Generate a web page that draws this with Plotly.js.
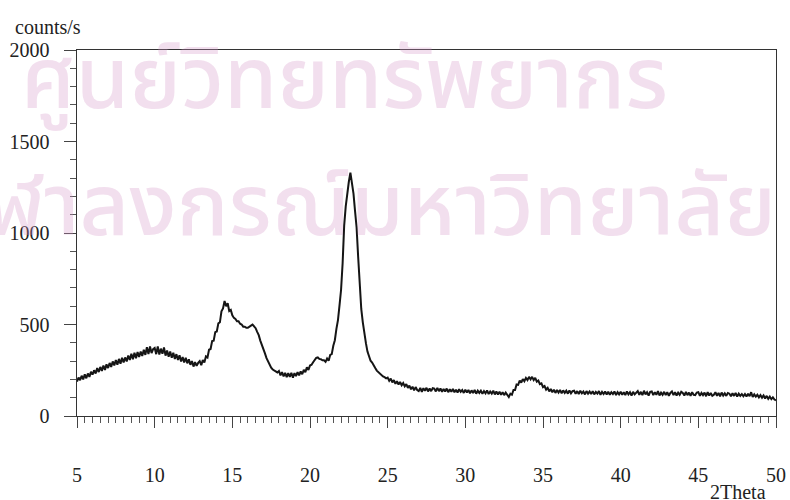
<!DOCTYPE html>
<html>
<head>
<meta charset="utf-8">
<script src="https://cdn.plot.ly/plotly-3.0.1.min.js"></script>
<style>html,body{margin:0;padding:0;background:#fff;}#chart{width:790px;height:500px;}</style>
</head>
<body>
<div id="chart"></div>
<script>
// XRD scan: 2Theta from 5 to 50 degrees, step 0.1
const scanStart = 5;
const scanStep = 0.1;
const counts = [
  188, 210, 196, 220, 200, 228, 206, 232, 214, 242,
  226, 250, 232, 262, 240, 268, 246, 276, 252, 282,
  262, 290, 268, 298, 276, 306, 280, 312, 286, 318,
  292, 320, 298, 330, 306, 340, 310, 346, 316, 350,
  322, 352, 328, 362, 334, 376, 338, 380, 344, 366,
  372, 338, 380, 336, 368, 340, 374, 330, 358, 324,
  352, 318, 346, 312, 338, 306, 332, 298, 322, 292,
  318, 288, 310, 280, 300, 270, 294, 274, 290, 300,
  278, 306, 292, 326, 320, 362, 366, 410, 412, 458,
  462, 506, 512, 572, 588, 628, 600, 616, 574, 580,
  550, 536, 530, 518, 518, 504, 500, 488, 488, 482,
  482, 486, 494, 500, 490, 480, 460, 442, 412, 392,
  362, 342, 316, 298, 278, 264, 254, 248, 240, 238,
  246, 222, 240, 216, 236, 212, 234, 214, 236, 210,
  234, 218, 240, 222, 244, 228, 252, 240, 266, 252,
  276, 280, 294, 306, 318, 320, 312, 310, 304, 304,
  296, 314, 302, 334, 338, 384, 414, 476, 524, 604,
  690, 835, 1040, 1145, 1225, 1280, 1330, 1275, 1215, 1120,
  1030, 870, 695, 585, 512, 440, 398, 352, 328, 302,
  292, 274, 262, 248, 240, 228, 222, 216, 212, 206,
  210, 192, 204, 184, 196, 176, 190, 172, 186, 168,
  180, 162, 174, 154, 166, 146, 160, 140, 158, 142,
  136, 154, 132, 152, 138, 154, 134, 150, 136, 152,
  150, 134, 154, 136, 150, 132, 148, 134, 150, 130,
  146, 132, 148, 130, 144, 128, 146, 132, 142, 126,
  144, 128, 142, 124, 140, 126, 142, 122, 138, 126,
  138, 122, 136, 124, 140, 120, 134, 122, 138, 118,
  134, 118, 132, 116, 130, 114, 128, 112, 104, 122,
  116, 142, 142, 172, 170, 194, 182, 202, 190, 208,
  196, 214, 200, 214, 196, 208, 188, 194, 174, 178,
  158, 164, 144, 154, 134, 148, 130, 144, 126, 142,
  128, 142, 124, 140, 126, 138, 122, 140, 124, 136,
  138, 122, 136, 120, 138, 124, 134, 118, 136, 122,
  134, 120, 136, 118, 132, 122, 136, 116, 132, 120,
  134, 118, 132, 116, 130, 120, 134, 114, 130, 118,
  132, 116, 130, 114, 134, 118, 130, 112, 132, 118,
  130, 136, 116, 132, 114, 138, 118, 130, 112, 132,
  134, 114, 130, 116, 136, 112, 128, 116, 132, 114,
  130, 110, 126, 134, 114, 130, 112, 128, 116, 132,
  126, 112, 132, 114, 128, 110, 130, 116, 114, 128,
  130, 110, 126, 114, 128, 108, 130, 112, 126, 110,
  116, 130, 110, 126, 108, 128, 112, 124, 110, 126,
  122, 108, 124, 110, 126, 106, 122, 110, 120, 108,
  120, 106, 122, 108, 130, 104, 118, 106, 116, 102,
  114, 100, 112, 96, 110, 94, 106, 92, 102, 90,
  86
];
const xTickVals = [5, 10, 15, 20, 25, 30, 35, 40, 45, 50];
const yTickVals = [0, 500, 1000, 1500, 2000];
const yAxisLabel = "counts/s";
const xAxisLabel = "2Theta";
const watermarkLine1 = "ศูนย์วิทยทรัพยากร";
const watermarkLine2 = "จุฬาลงกรณ์มหาวิทยาลัย";

const twoTheta = counts.map((_, i) => +(scanStart + i * scanStep).toFixed(1));

const serif = "Liberation Serif, Times New Roman, serif";
const thai = "Noto Sans Thai, Noto Sans Thai Looped, Loma, Garuda, Noto Sans, DejaVu Sans, sans-serif";
const wmColor = "rgba(212,150,200,0.3)";

const trace = {
  x: twoTheta, y: counts, type: "scatter", mode: "lines",
  line: {color: "#151515", width: 2},
  hoverinfo: "skip", showlegend: false
};

const layout = {
  width: 790, height: 500,
  margin: {l: 77, r: 14, t: 50, b: 84, pad: 0},
  paper_bgcolor: "#fff", plot_bgcolor: "#fff",
  font: {family: serif, size: 20, color: "#222"},
  xaxis: {
    range: [5, 50], showgrid: false, zeroline: false,
    showline: true, linecolor: "#333", linewidth: 1.4, mirror: true,
    tickmode: "array", tickvals: xTickVals, ticktext: xTickVals.map(String),
    ticks: "outside", ticklen: 11, tickwidth: 1, tickcolor: "#444",
    ticklabelstandoff: 30,
    minor: {dtick: 0.5, ticks: "outside", ticklen: 6, tickwidth: 1, tickcolor: "#555", showgrid: false},
    tickfont: {family: serif, size: 20, color: "#222"}
  },
  yaxis: {
    range: [0, 2000], showgrid: false, zeroline: false,
    showline: true, linecolor: "#333", linewidth: 1.4, mirror: true,
    tickmode: "array", tickvals: yTickVals, ticktext: yTickVals.map(String),
    ticks: "outside", ticklen: 12, tickwidth: 1, tickcolor: "#444",
    ticklabelstandoff: 10,
    minor: {dtick: 100, ticks: "outside", ticklen: 6, tickwidth: 1, tickcolor: "#555", showgrid: false},
    tickfont: {family: serif, size: 20, color: "#222"}
  },
  annotations: [
    {text: yAxisLabel, xref: "paper", yref: "paper", x: -0.091, y: 1.063, xanchor: "left", yanchor: "middle",
     showarrow: false, font: {family: serif, size: 20, color: "#222"}},
    {text: xAxisLabel, xref: "paper", yref: "paper", x: 0.988, y: -0.208, xanchor: "right", yanchor: "middle",
     showarrow: false, font: {family: serif, size: 20, color: "#222"}},
    {text: watermarkLine1, xref: "paper", yref: "paper", x: 0.383, y: 0.913, xanchor: "center", yanchor: "middle",
     showarrow: false, font: {family: thai, size: 86, weight: 500, color: wmColor}},
    {text: watermarkLine2, xref: "paper", yref: "paper", x: 1.003, y: 0.565, xanchor: "right", yanchor: "middle",
     showarrow: false, font: {family: thai, size: 86, weight: 500, color: wmColor}}
  ]
};

Plotly.newPlot("chart", [trace], layout, {staticPlot: true, displayModeBar: false});
</script>
</body>
</html>
